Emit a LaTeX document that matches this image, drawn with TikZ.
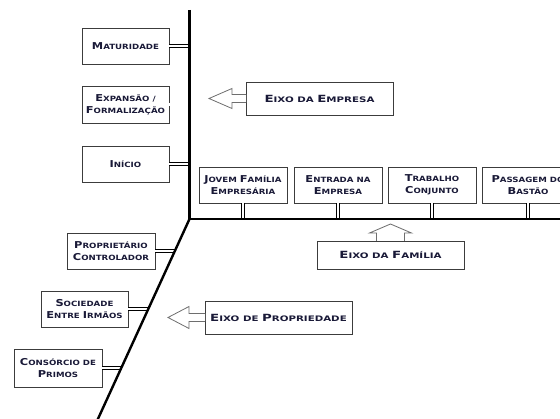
\documentclass[tikz,border=0pt]{standalone}
\usepackage{fontspec}
\setmainfont{DejaVu Sans}
\newfontfamily\lblfont[FakeStretch=1.2]{DejaVu Sans}
\newfontfamily\axfont[FakeStretch=1.35]{DejaVu Sans}
\newcommand{\bigc}[1]{{\fontsize{9.5}{12.5}\selectfont #1}}
\newcommand{\bigx}[1]{{\fontsize{9.9}{12.5}\selectfont #1}}
\definecolor{txt}{RGB}{25,25,55}
\definecolor{boxgray}{RGB}{60,60,60}
\definecolor{arrgray}{RGB}{110,110,110}
\tikzset{
  lbl/.style={draw=boxgray, line width=0.9pt, fill=white, inner sep=0pt, outer sep=0pt,
    anchor=north west, align=center, text=txt,
    font=\lblfont\bfseries\fontsize{7.2}{12.5}\selectfont},
  axlbl/.style={lbl, font=\axfont\bfseries\fontsize{7.6}{12.5}\selectfont},
  axis/.style={line width=2.4pt, line join=miter},
  link/.style={draw=black, double=white, double distance=2.2pt, line width=0.7pt},
  bigarrow/.style={draw=arrgray, fill=white, line width=0.8pt, line join=miter}
}
\begin{document}
\begin{tikzpicture}[x=1pt,y=-1pt]
\useasboundingbox (0,0) rectangle (560,419);
\clip (0,0) rectangle (560,419);
% axis points
\coordinate (top) at (189.5,10);
\coordinate (corner) at (189.5,219);
\coordinate (rend) at (565,219);
\coordinate (bottom) at (97,421);
% company axis boxes
\node[lbl, minimum width=87pt, minimum height=36pt] (M) at (82,28) {\bigc{M}ATURIDADE};
\node[lbl, minimum width=87pt, minimum height=37pt] (X) at (82,86) {\bigc{E}XPANSÃO /\\\bigc{F}ORMALIZAÇÃO};
\node[lbl, minimum width=87pt, minimum height=36pt] (I) at (82,146) {\bigc{I}NÍCIO};
% family axis boxes
\node[lbl, minimum width=88pt, minimum height=36pt] (J) at (199,167) {\bigc{J}OVEM \bigc{F}AMÍLIA\\\bigc{E}MPRESÁRIA};
\node[lbl, minimum width=88pt, minimum height=36pt] (En) at (294,167) {\bigc{E}NTRADA NA\\\bigc{E}MPRESA};
\node[lbl, minimum width=88pt, minimum height=36pt] (T) at (388,167) {\bigc{T}RABALHO\\\bigc{C}ONJUNTO};
\node[lbl, minimum width=92pt, minimum height=36pt] (Pa) at (482,167) {\bigc{P}ASSAGEM DO\\\bigc{B}ASTÃO};
% ownership axis boxes
\node[lbl, minimum width=88pt, minimum height=36pt] (PC) at (67,233) {\bigc{P}ROPRIETÁRIO\\\bigc{C}ONTROLADOR};
\node[lbl, minimum width=87pt, minimum height=36pt] (SE) at (41,291) {\bigc{S}OCIEDADE\\\bigc{E}NTRE \bigc{I}RMÃOS};
\node[lbl, minimum width=88pt, minimum height=38pt] (CP) at (14,349) {\bigc{C}ONSÓRCIO DE\\\bigc{P}RIMOS};
% points on the diagonal axis
\coordinate (dPC) at (174.8,251);
\coordinate (dSE) at (148.3,309);
\coordinate (dCP) at (121.3,368);
% connectors
\draw[link] (M.east) -- (M.east -| top);
\draw[link] (X.east) -- (X.east -| top);
\draw[link] (I.east) -- (I.east -| top);
\draw[link] (J.south) -- (J.south |- corner);
\draw[link] (En.south) -- (En.south |- corner);
\draw[link] (T.south) -- (T.south |- corner);
\draw[link] (Pa.south) -- (Pa.south |- corner);
\draw[link] (PC.east) -- (dPC);
\draw[link] (SE.east) -- (dSE);
\draw[link] (CP.east) -- (dCP);
% axes
\draw[axis] (top) -- (corner) -- (rend);
\draw[axis] (corner) -- (bottom);
% axis label boxes
\node[axlbl, minimum width=147pt, minimum height=33pt] (E) at (246,82) {\bigx{E}IXO DA \bigx{E}MPRESA};
\node[axlbl, minimum width=147pt, minimum height=28pt] (F) at (317,241) {\bigx{E}IXO DA \bigx{F}AMÍLIA};
\node[axlbl, minimum width=147pt, minimum height=33pt] (P) at (205,301) {\bigx{E}IXO DE \bigx{P}ROPRIEDADE};
% block arrows
\draw[bigarrow] (E.west) ++(0,-4) -- ++(-14,0) -- ++(0,-6) -- ++(-23,10) -- ++(23,10) -- ++(0,-6) -- ++(14,0);
\draw[bigarrow] (P.west) ++(0,-4) -- ++(-16,0) -- ++(0,-7) -- ++(-21,11) -- ++(21,11) -- ++(0,-7) -- ++(16,0);
\draw[bigarrow] (F.north) ++(-14,0) -- ++(0,-8) -- ++(-7,0) -- ++(21,-9) -- ++(21,9) -- ++(-7,0) -- ++(0,8);
\end{tikzpicture}
\end{document}
